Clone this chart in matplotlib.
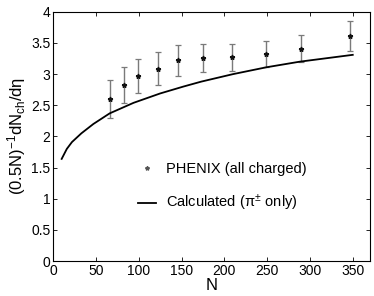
import matplotlib
matplotlib.use("Agg")
import matplotlib.pyplot as plt
from matplotlib.lines import Line2D

# -----------------------------
# Data
# -----------------------------
phenix_n = [66, 83, 99, 122, 146, 175, 209, 249, 290, 347]
phenix_y = [2.60, 2.83, 2.97, 3.09, 3.22, 3.26, 3.27, 3.33, 3.41, 3.61]
phenix_err = [0.31, 0.29, 0.27, 0.26, 0.25, 0.23, 0.22, 0.21, 0.22, 0.245]

calc_n = [10, 16, 22, 33, 47, 66, 94, 125, 152, 173, 210, 249, 288, 350]
calc_y = [1.64, 1.80, 1.91, 2.05, 2.20, 2.37, 2.54, 2.69, 2.80, 2.88, 3.00, 3.11, 3.20, 3.31]

x_ticks = [0, 50, 100, 150, 200, 250, 300, 350]
y_ticks = [0, 0.5, 1, 1.5, 2, 2.5, 3, 3.5, 4]
y_tick_labels = ["0", "0.5", "1", "1.5", "2", "2.5", "3", "3.5", "4"]

# -----------------------------
# Style
# -----------------------------
plt.rcParams["font.family"] = ["Liberation Sans", "DejaVu Sans"]
plt.rcParams["mathtext.fontset"] = "custom"
plt.rcParams["mathtext.rm"] = "Liberation Sans"
plt.rcParams["mathtext.it"] = "Liberation Sans"
plt.rcParams["mathtext.sf"] = "Liberation Sans"

fig = plt.figure(figsize=(3.74, 2.96), dpi=100)
ax = fig.add_axes([0.142, 0.118, 0.847, 0.842])

ax.errorbar(phenix_n, phenix_y, yerr=phenix_err, fmt="none",
            ecolor="#7a7a7a", elinewidth=1.0, capsize=2.5, capthick=0.9)
ax.plot(phenix_n, phenix_y, linestyle="none", marker="*",
        markersize=3.5, color="#111111")
ax.plot(calc_n, calc_y, color="black", linewidth=1.3)

ax.set_xlim(0, 370)
ax.set_ylim(0, 4)
ax.set_xticks(x_ticks)
ax.set_yticks(y_ticks)
ax.set_yticklabels(y_tick_labels)
ax.tick_params(direction="in", top=True, right=True, length=3,
               labelsize=10, pad=2, width=0.6)
for s in ax.spines.values():
    s.set_linewidth(0.8)

ax.set_xlabel("N", fontsize=12, labelpad=0)
ax.set_ylabel(r"$(0.5N)^{-1}dN_{ch}/d\eta$", fontsize=12, labelpad=2)

handles = [
    Line2D([], [], linestyle="none", marker="*", markersize=3, color="#555555"),
    Line2D([], [], color="black", linewidth=1.3),
]
labels = ["PHENIX (all charged)", r"Calculated ($\pi^{\pm}$ only)"]
ax.legend(handles, labels, loc="center", bbox_to_anchor=(0.535, 0.295),
          frameon=False, fontsize=10.5, handlelength=1.2,
          labelspacing=1.2, handletextpad=0.7)

fig.savefig("out.png", dpi=100)
